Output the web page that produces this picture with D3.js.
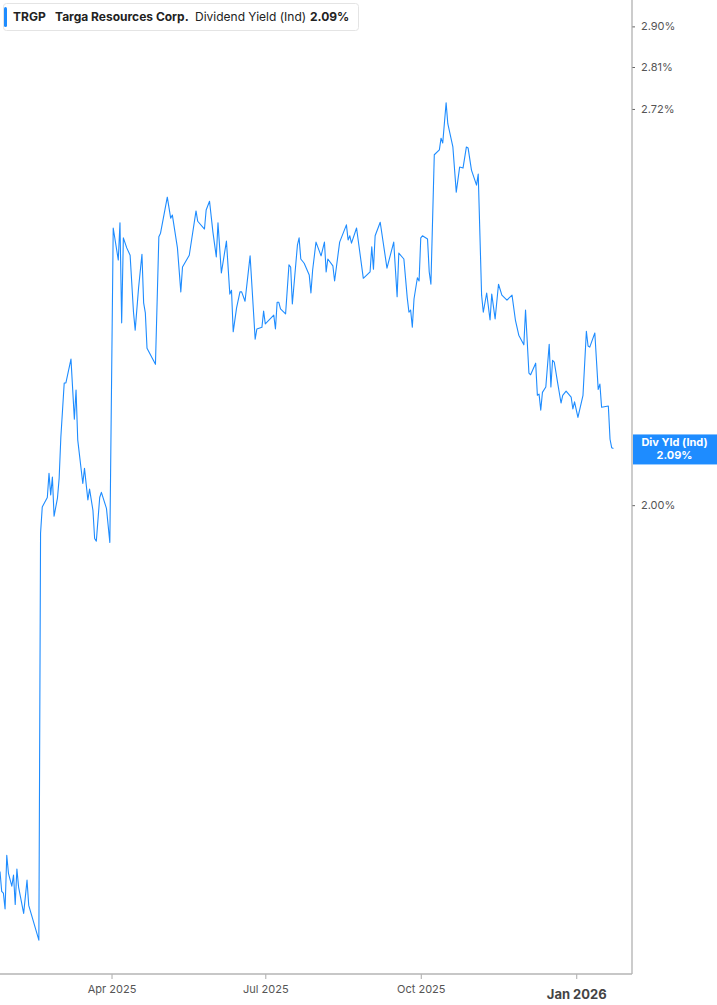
<!DOCTYPE html>
<html>
<head>
<meta charset="utf-8">
<script src="https://cdn.jsdelivr.net/npm/d3@7"></script>
<style>
  body { margin: 0; background: #fff; font-family: Inter, "Noto Sans", sans-serif; }
  svg { display: block; }
</style>
</head>
<body>
<div id="chart"></div>
<script>
// ticker info
var ticker = 'TRGP', company = 'Targa Resources Corp.', metric = 'Dividend Yield (Ind)', lastLabel = '2.09%';

// dividend yield (%)
var dates = ['2025-01-25','2025-01-26','2025-01-27','2025-01-28','2025-01-29','2025-01-30','2025-02-01','2025-02-02','2025-02-03','2025-02-04',
  '2025-02-05','2025-02-08','2025-02-10','2025-02-11','2025-02-17','2025-02-18','2025-02-19','2025-02-22','2025-02-23','2025-02-24',
  '2025-02-25','2025-02-26','2025-02-28','2025-03-01','2025-03-02','2025-03-04','2025-03-05','2025-03-08','2025-03-10','2025-03-11',
  '2025-03-12','2025-03-15','2025-03-16','2025-03-18','2025-03-19','2025-03-21','2025-03-22','2025-03-23','2025-03-25','2025-03-26',
  '2025-03-29','2025-03-31','2025-04-02','2025-04-05','2025-04-06','2025-04-07','2025-04-08','2025-04-10','2025-04-12','2025-04-14',
  '2025-04-15','2025-04-17','2025-04-19','2025-04-20','2025-04-21','2025-04-22','2025-04-27','2025-04-29','2025-04-30','2025-05-04',
  '2025-05-06','2025-05-07','2025-05-10','2025-05-12','2025-05-13','2025-05-17','2025-05-21','2025-05-22','2025-05-26','2025-05-27',
  '2025-05-29','2025-05-31','2025-06-02','2025-06-03','2025-06-05','2025-06-08','2025-06-10','2025-06-11','2025-06-12','2025-06-14',
  '2025-06-16','2025-06-17','2025-06-19','2025-06-22','2025-06-25','2025-06-26','2025-06-29','2025-06-30','2025-07-01','2025-07-06',
  '2025-07-07','2025-07-08','2025-07-09','2025-07-10','2025-07-13','2025-07-15','2025-07-16','2025-07-17','2025-07-20','2025-07-21',
  '2025-07-22','2025-07-24','2025-07-27','2025-07-28','2025-07-29','2025-07-31','2025-08-03','2025-08-05','2025-08-06','2025-08-07',
  '2025-08-10','2025-08-11','2025-08-14','2025-08-18','2025-08-19','2025-08-20','2025-08-21','2025-08-24','2025-08-28','2025-09-01',
  '2025-09-02','2025-09-03','2025-09-04','2025-09-07','2025-09-11','2025-09-15','2025-09-17','2025-09-18','2025-09-21','2025-09-23',
  '2025-09-24','2025-09-25','2025-09-26','2025-09-27','2025-09-29','2025-09-30','2025-10-01','2025-10-02','2025-10-05','2025-10-06',
  '2025-10-07','2025-10-09','2025-10-12','2025-10-13','2025-10-14','2025-10-16','2025-10-17','2025-10-20','2025-10-22','2025-10-24',
  '2025-10-26','2025-10-28','2025-10-29','2025-10-31','2025-11-03','2025-11-04','2025-11-06','2025-11-07','2025-11-09','2025-11-11',
  '2025-11-12','2025-11-14','2025-11-16','2025-11-18','2025-11-21','2025-11-24','2025-11-26','2025-11-28','2025-12-01','2025-12-02',
  '2025-12-04','2025-12-05','2025-12-08','2025-12-09','2025-12-10','2025-12-11','2025-12-12','2025-12-14','2025-12-16','2025-12-17',
  '2025-12-18','2025-12-19','2025-12-21','2025-12-23','2025-12-24','2025-12-26','2025-12-29','2025-12-30','2025-12-31','2026-01-02',
  '2026-01-05','2026-01-07','2026-01-08','2026-01-09','2026-01-12','2026-01-14','2026-01-15','2026-01-16','2026-01-20','2026-01-21',
  '2026-01-22','2026-01-23'];
var yields = [1.505,1.482,1.480,1.462,1.524,1.503,1.488,1.501,1.467,1.508,
  1.487,1.457,1.495,1.466,1.427,1.957,1.997,2.012,2.050,2.016,
  2.044,1.983,2.011,2.042,2.108,2.199,2.199,2.240,2.138,2.187,
  2.104,2.034,2.058,2.008,2.025,1.992,1.949,1.945,2.012,2.020,
  1.995,1.943,2.480,2.419,2.490,2.304,2.461,2.442,2.428,2.323,
  2.291,2.367,2.430,2.340,2.322,2.259,2.231,2.463,2.470,2.540,
  2.499,2.505,2.442,2.360,2.406,2.428,2.513,2.493,2.478,2.515,
  2.532,2.472,2.425,2.490,2.395,2.455,2.356,2.363,2.288,2.331,
  2.360,2.360,2.343,2.427,2.275,2.293,2.296,2.325,2.302,2.318,
  2.293,2.341,2.341,2.329,2.320,2.410,2.406,2.338,2.447,2.461,
  2.421,2.413,2.391,2.358,2.400,2.453,2.427,2.453,2.397,2.421,
  2.408,2.380,2.453,2.486,2.457,2.465,2.451,2.480,2.385,2.397,
  2.444,2.402,2.465,2.491,2.404,2.453,2.351,2.432,2.421,2.349,
  2.323,2.327,2.296,2.347,2.386,2.380,2.461,2.465,2.459,2.397,
  2.374,2.625,2.635,2.659,2.649,2.733,2.689,2.641,2.550,2.600,
  2.598,2.641,2.639,2.594,2.564,2.586,2.354,2.323,2.358,2.309,
  2.356,2.311,2.374,2.354,2.345,2.354,2.309,2.282,2.265,2.327,
  2.216,2.213,2.233,2.178,2.180,2.153,2.183,2.192,2.266,2.192,
  2.238,2.235,2.199,2.165,2.178,2.185,2.175,2.155,2.167,2.141,
  2.178,2.289,2.263,2.261,2.286,2.188,2.197,2.158,2.160,2.105,
  2.091,2.090];

// axis ticks
var yTicks = [2.00, 2.72, 2.81, 2.90];
var xTicks = ['2025-04-01','2025-07-01','2025-10-01','2026-01-01'];
var xTickLabels = ['Apr 2025','Jul 2025','Oct 2025','Jan 2026'];

var W = 717, H = 1005;
var plotR = 632, plotB = 974;
var blue = '#1e8cff';
var parse = d3.timeParse('%Y-%m-%d');

var data = dates.map(function(d, i){ return {date: parse(d), v: yields[i]}; });

var svg = d3.select('#chart').append('svg').attr('width', W).attr('height', H);

var x = d3.scaleTime()
  .domain([parse('2025-01-25'), parse('2026-02-03')])
  .range([0, plotR]);

var y = d3.scaleLog()
  .domain([1.39, 2.96])
  .range([plotB, 0]);

// line
var line = d3.line()
  .x(function(d){ return x(d.date); })
  .y(function(d){ return y(d.v); });

svg.append('path')
  .datum(data)
  .attr('d', line)
  .attr('fill', 'none')
  .attr('stroke', blue)
  .attr('stroke-width', 1.1)
  .attr('stroke-linejoin', 'round');

// right axis
var yAxis = d3.axisRight(y)
  .tickValues(yTicks)
  .tickSize(3)
  .tickPadding(6)
  .tickFormat(function(d){ return d.toFixed(2) + '%'; });

var gy = svg.append('g').attr('transform', 'translate(' + plotR + ',0)').call(yAxis);
gy.select('.domain').remove();
gy.selectAll('.tick line').attr('stroke', '#666');
gy.selectAll('.tick text').attr('fill', '#555').attr('font-size', '11px').attr('font-family', 'Inter, sans-serif');

svg.append('line')
  .attr('x1', plotR).attr('x2', plotR).attr('y1', 0).attr('y2', plotB)
  .attr('stroke', '#aaa').attr('stroke-width', 1.2);

// bottom axis
var xAxis = d3.axisBottom(x)
  .tickValues(xTicks.map(parse))
  .tickSize(5)
  .tickPadding(6)
  .tickFormat(function(d, i){ return xTickLabels[i]; });

var gx = svg.append('g').attr('transform', 'translate(0,' + plotB + ')').call(xAxis);
gx.select('.domain').remove();
gx.selectAll('.tick line').attr('stroke', '#aaa');
gx.selectAll('.tick text').attr('fill', '#555').attr('font-size', '11px').attr('font-family', 'Inter, sans-serif');
gx.selectAll('.tick text').filter(function(d, i){ return i === 3; })
  .attr('font-weight', 'bold').attr('font-size', '13px').attr('fill', '#444').attr('dy', '1.05em');

svg.append('line')
  .attr('x1', 0).attr('x2', plotR).attr('y1', plotB).attr('y2', plotB)
  .attr('stroke', '#b5b5b5').attr('stroke-width', 1.5);

// last value tag
var last = data[data.length - 1];
var tagY = y(last.v);
svg.append('rect')
  .attr('x', plotR + 1).attr('y', tagY - 14).attr('width', W - plotR - 1).attr('height', 30)
  .attr('fill', blue);
svg.append('text')
  .attr('x', (plotR + W) / 2).attr('y', tagY - 2)
  .attr('text-anchor', 'middle').attr('fill', 'white')
  .attr('font-size', '11px').attr('font-weight', 'bold')
  .text('Div Yld (Ind)');
svg.append('text')
  .attr('x', (plotR + W) / 2).attr('y', tagY + 11)
  .attr('text-anchor', 'middle').attr('fill', 'white')
  .attr('font-size', '11px').attr('font-weight', 'bold')
  .text(lastLabel);

// legend box
var lg = svg.append('g');
lg.append('rect')
  .attr('x', 3.5).attr('y', 3.5).attr('width', 355).attr('height', 27).attr('rx', 3)
  .attr('fill', 'white').attr('stroke', '#e4e4e4');
lg.append('rect')
  .attr('x', 4).attr('y', 7).attr('width', 3).attr('height', 20).attr('rx', 1.5)
  .attr('fill', blue);
var lt = lg.append('text').attr('y', 21).attr('font-size', '12px').attr('fill', '#222');
lt.append('tspan').attr('x', 13).attr('font-weight', 'bold').text(ticker);
lt.append('tspan').attr('x', 55).attr('font-weight', 'bold').text(company);
lt.append('tspan').attr('x', 195).text(metric);
lt.append('tspan').attr('x', 310).attr('font-weight', 'bold').text(lastLabel);
</script>
</body>
</html>
